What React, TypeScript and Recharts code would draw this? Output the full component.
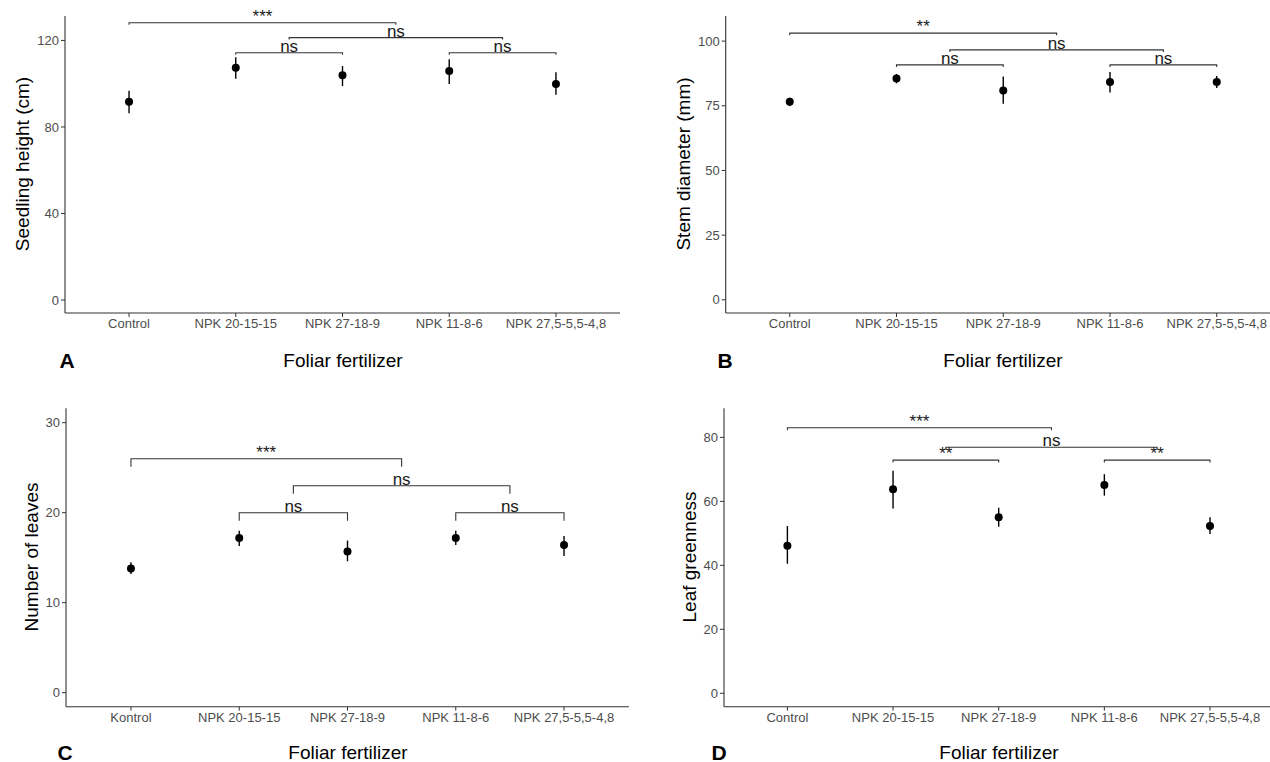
import React from "react";
import {
    ComposedChart,
    Scatter,
    ErrorBar,
    XAxis,
    YAxis,
    ReferenceDot,
} from "recharts";

const FONT = '"Liberation Sans", Arial, sans-serif';

const categoriesEn = ["Control", "NPK 20-15-15", "NPK 27-18-9", "NPK 11-8-6", "NPK 27,5-5,5-4,8"];
const categoriesId = ["Kontrol", "NPK 20-15-15", "NPK 27-18-9", "NPK 11-8-6", "NPK 27,5-5,5-4,8"];

// A - seedling height (cm)
const heightMean = [91.7, 107.4, 103.9, 105.9, 99.9];
const heightLow = [86.3, 102.3, 98.9, 99.9, 94.9];
const heightHigh = [96.8, 112.2, 108.2, 111.3, 105.3];
const heightTicks = [0, 40, 80, 120];
const heightBrackets = [
    { from: 1, to: 3.5, y: 128.2, label: "***" },
    { from: 2.5, to: 4.5, y: 121.3, label: "ns" },
    { from: 2, to: 3, y: 114.3, label: "ns" },
    { from: 4, to: 5, y: 114.3, label: "ns" },
];

// B - stem diameter (mm)
const stemMean = [76.6, 85.5, 80.9, 84.2, 84.2];
const stemLow = [74.9, 83.7, 75.8, 80.1, 81.9];
const stemHigh = [78.1, 87.3, 86.3, 88.1, 86.5];
const stemTicks = [0, 25, 50, 75, 100];
const stemBrackets = [
    { from: 1, to: 3.5, y: 103.1, label: "**" },
    { from: 2.5, to: 4.5, y: 96.6, label: "ns" },
    { from: 2, to: 3, y: 90.8, label: "ns" },
    { from: 4, to: 5, y: 90.8, label: "ns" },
];

// C - number of leaves
const leavesMean = [13.8, 17.2, 15.7, 17.2, 16.4];
const leavesLow = [13.2, 16.3, 14.6, 16.4, 15.2];
const leavesHigh = [14.5, 18.0, 16.9, 18.0, 17.4];
const leavesTicks = [0, 10, 20, 30];
const leavesBrackets = [
    { from: 1, to: 3.5, y: 26.0, label: "***" },
    { from: 2.5, to: 4.5, y: 23.0, label: "ns" },
    { from: 2, to: 3, y: 20.0, label: "ns" },
    { from: 4, to: 5, y: 20.0, label: "ns" },
];

// D - leaf greenness
const greenMean = [46.1, 63.8, 55.0, 65.1, 52.3];
const greenLow = [40.5, 57.8, 52.1, 61.8, 49.8];
const greenHigh = [52.3, 69.6, 58.0, 68.5, 55.0];
const greenTicks = [0, 20, 40, 60, 80];
const greenBrackets = [
    { from: 1, to: 3.5, y: 83.0, label: "***" },
    { from: 2.5, to: 4.5, y: 76.9, label: "ns" },
    { from: 2, to: 3, y: 72.9, label: "**" },
    { from: 4, to: 5, y: 72.9, label: "**" },
];

type Bracket = { from: number; to: number; y: number; label: string };

interface PanelProps {
    left: number;
    top: number;
    width: number;
    height: number;
    marginTop: number;
    marginRight: number;
    yAxisWidth: number;
    xAxisHeight: number;
    domain: [number, number];
    ticks: number[];
    categories: string[];
    mean: number[];
    low: number[];
    high: number[];
    brackets: Bracket[];
    tip: number;
}

function Panel(p: PanelProps) {
    const points = p.mean.map((m, i) => ({
        x: i + 1,
        y: m,
        err: [m - p.low[i], p.high[i] - m],
    }));
    return (
        <div style={{ position: "absolute", left: p.left, top: p.top }}>
            <ComposedChart
                width={p.width}
                height={p.height}
                margin={{ top: p.marginTop, right: p.marginRight, left: 0, bottom: 0 }}
            >
                <XAxis
                    type="number"
                    dataKey="x"
                    domain={[0.4, 5.6]}
                    ticks={[1, 2, 3, 4, 5]}
                    interval={0}
                    allowDataOverflow
                    height={p.xAxisHeight}
                    tickFormatter={(v) => p.categories[Number(v) - 1] ?? ""}
                    tickSize={4}
                    tick={{ fill: "#4d4d4d", fontSize: 13, fontFamily: FONT }}
                    axisLine={{ stroke: "#333", strokeWidth: 1.1 }}
                    tickLine={{ stroke: "#333" }}
                />
                <YAxis
                    type="number"
                    dataKey="y"
                    domain={p.domain}
                    ticks={p.ticks}
                    interval={0}
                    allowDataOverflow
                    width={p.yAxisWidth}
                    tickSize={4}
                    tick={{ fill: "#4d4d4d", fontSize: 13, fontFamily: FONT }}
                    axisLine={{ stroke: "#333", strokeWidth: 1.1 }}
                    tickLine={{ stroke: "#333" }}
                />
                {p.brackets.map((b, i) => (
                    <Scatter
                        key={"br" + i}
                        data={[
                            { x: b.from, y: b.y - p.tip },
                            { x: b.from, y: b.y },
                            { x: b.to, y: b.y },
                            { x: b.to, y: b.y - p.tip },
                        ]}
                        dataKey="y"
                        line={{ stroke: "#333", strokeWidth: 1.1 }}
                        lineType="joint"
                        shape={() => <g />}
                        isAnimationActive={false}
                    />
                ))}
                {p.brackets.map((b, i) => (
                    <ReferenceDot
                        key={"lb" + i}
                        x={(b.from + b.to) / 2}
                        y={b.y}
                        r={0}
                        fill="none"
                        stroke="none"
                        label={{
                            value: b.label,
                            position: "top",
                            offset: 1,
                            fill: "#1a1a1a",
                            fontSize: 17,
                            fontFamily: FONT,
                        }}
                    />
                ))}
                <Scatter
                    data={points}
                    dataKey="y"
                    isAnimationActive={false}
                    shape={(s: any) => <circle cx={s.cx} cy={s.cy} r={4} fill="#000" />}
                >
                    <ErrorBar dataKey="err" direction="y" width={0} stroke="#000" strokeWidth={1.4} />
                </Scatter>
            </ComposedChart>
        </div>
    );
}

function Text({ x, y, children, size = 19, bold = false, rotate = false }: any) {
    return (
        <div
            style={{
                position: "absolute",
                left: x,
                top: y,
                transform: `translate(-50%, -50%)${rotate ? " rotate(-90deg)" : ""}`,
                fontSize: size,
                fontWeight: bold ? 700 : 400,
                lineHeight: 1,
                whiteSpace: "nowrap",
                color: "#000",
            }}
        >
            {children}
        </div>
    );
}

export default function App() {
    return (
        <div
            style={{
                position: "absolute",
                left: 0,
                top: 0,
                width: 1270,
                height: 762,
                overflow: "hidden",
                background: "#fff",
                fontFamily: FONT,
            }}
        >
            <Panel
                left={0} top={0} width={635} height={381}
                marginTop={16} marginRight={15} yAxisWidth={65} xAxisHeight={68}
                domain={[-6.0, 131.3]} ticks={heightTicks} categories={categoriesEn}
                mean={heightMean} low={heightLow} high={heightHigh}
                brackets={heightBrackets} tip={0.9}
            />
            <Panel
                left={640} top={0} width={660} height={381}
                marginTop={16} marginRight={19.2} yAxisWidth={85.7} xAxisHeight={68}
                domain={[-5.1, 109.7]} ticks={stemTicks} categories={categoriesEn}
                mean={stemMean} low={stemLow} high={stemHigh}
                brackets={stemBrackets} tip={0.8}
            />
            <Panel
                left={0} top={381} width={640} height={381}
                marginTop={27.3} marginRight={11} yAxisWidth={66} xAxisHeight={55.3}
                domain={[-1.56, 31.6]} ticks={leavesTicks} categories={categoriesId}
                mean={leavesMean} low={leavesLow} high={leavesHigh}
                brackets={leavesBrackets} tip={0.9}
            />
            <Panel
                left={640} top={381} width={660} height={381}
                marginTop={27.3} marginRight={26.6} yAxisWidth={84} xAxisHeight={55.3}
                domain={[-4.2, 89.1]} ticks={greenTicks} categories={categoriesEn}
                mean={greenMean} low={greenLow} high={greenHigh}
                brackets={greenBrackets} tip={0.75}
            />

            <Text x={22} y={164} rotate>Seedling height (cm)</Text>
            <Text x={683} y={164} rotate>Stem diameter (mm)</Text>
            <Text x={31} y={557} rotate>Number of leaves</Text>
            <Text x={689} y={557} rotate>Leaf greenness</Text>

            <Text x={343} y={360}>Foliar fertilizer</Text>
            <Text x={1003} y={360}>Foliar fertilizer</Text>
            <Text x={348} y={752}>Foliar fertilizer</Text>
            <Text x={999} y={752}>Foliar fertilizer</Text>

            <Text x={67} y={360} size={21} bold>A</Text>
            <Text x={725} y={360} size={21} bold>B</Text>
            <Text x={65} y={752} size={21} bold>C</Text>
            <Text x={719} y={752} size={21} bold>D</Text>
        </div>
    );
}
